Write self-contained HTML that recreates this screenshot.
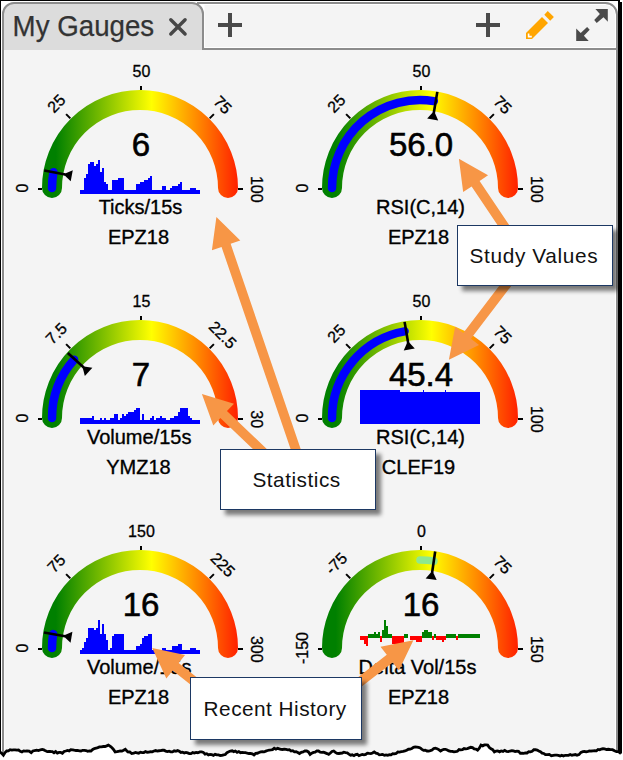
<!DOCTYPE html>
<html><head><meta charset="utf-8"><title>My Gauges</title>
<style>
html,body{margin:0;padding:0;background:#fff;}
body{width:623px;height:760px;overflow:hidden;position:relative;font-family:"Liberation Sans", sans-serif;}
svg{position:absolute;left:0;top:0;display:block;}
svg text{font-family:"Liberation Sans", sans-serif;fill:#000;}
svg text.b{stroke:#000;stroke-width:0.35px;}
svg text.v{stroke:#000;stroke-width:0.6px;}
svg text.t{stroke:#000;stroke-width:0.3px;}
</style></head><body>
<svg width="623" height="760" viewBox="0 0 623 760">
<defs>
<linearGradient id="gr0" gradientUnits="userSpaceOnUse" x1="42" y1="0" x2="239" y2="0">
<stop offset="0" stop-color="#008000"/><stop offset="0.07" stop-color="#008000"/><stop offset="0.556" stop-color="#ffff00"/><stop offset="1" stop-color="#ff1e00"/>
</linearGradient>
<linearGradient id="gr1" gradientUnits="userSpaceOnUse" x1="322" y1="0" x2="519" y2="0">
<stop offset="0" stop-color="#008000"/><stop offset="0.07" stop-color="#008000"/><stop offset="0.556" stop-color="#ffff00"/><stop offset="1" stop-color="#ff1e00"/>
</linearGradient>
<filter id="sh" x="-10%" y="-10%" width="130%" height="140%">
<feGaussianBlur in="SourceAlpha" stdDeviation="2.1"/>
<feOffset dx="5" dy="4.5" result="b"/>
<feComponentTransfer><feFuncA type="linear" slope="0.5"/></feComponentTransfer>
<feMerge><feMergeNode/><feMergeNode in="SourceGraphic"/></feMerge>
</filter>
</defs>
<!-- panel background -->
<rect x="2" y="2" width="616" height="756" fill="#f4f4f4"/>
<rect x="1" y="1" width="617" height="49" fill="#fff"/>
<!-- header right area -->
<path d="M204 2H606A12 12 0 0 1 618 14V50H204Z" fill="#f4f4f4"/>
<path d="M204 4.5H605.5A10.5 10.5 0 0 1 615.5 14V47.5H204.5Z" fill="none" stroke="#fff" stroke-width="1"/>
<path d="M197 3H605.5A11.5 11.5 0 0 1 617 14.5V760" fill="none" stroke="#8c8c8c" stroke-width="2"/>
<path d="M204 49H616" stroke="#8c8c8c" stroke-width="2"/>
<path d="M615.5 50V760" stroke="#fff" stroke-width="1"/>
<!-- tab -->
<path d="M3 50V14A11 11 0 0 1 14 3H192A11 11 0 0 1 203 14V50Z" fill="#dcdcdc"/>
<path d="M3 50V14A11 11 0 0 1 14 3H192A11 11 0 0 1 203 14V50" fill="none" stroke="#8c8c8c" stroke-width="2"/>
<path d="M3 50V760" stroke="#8c8c8c" stroke-width="2"/>
<path d="M4.5 50V760" stroke="#fafafa" stroke-width="1"/>
<text x="12.6" y="35.8" font-size="29.6" textLength="141.6" lengthAdjust="spacingAndGlyphs" style="fill:#333;stroke:#333;stroke-width:0.25px">My Gauges</text>
<path d="M170.8 19.8L185.1 34M185.1 19.8L170.8 34" stroke="#474747" stroke-width="3.4" stroke-linecap="round"/>
<!-- header icons -->
<path d="M218 25H242M230 13V37" stroke="#4a4a4a" stroke-width="4"/>
<path d="M476 25H500M488 13V37" stroke="#4a4a4a" stroke-width="4"/>
<path d="M526 33L542 17L548 23L532 39H526Z" fill="#ffa500"/>
<path d="M544.3 14.7L547.7 11.1L553.9 17L550.2 20.8Z" fill="#ffa500"/>
<path d="M528.6 33.6V36.6H531.8" fill="none" stroke="#fff" stroke-width="1.6"/>
<path d="M595.4 9.1H607.8V21.7L603.5 17.2L596.7 22.9L594.2 20L599.9 14Z" fill="#4a4a4a"/>
<path d="M576.2 40.9V28.4L580.7 32.9L587.1 27.1L589.7 29.7L583.9 35.8L588.7 40.9Z" fill="#4a4a4a"/>
<!-- gauges -->
<path d="M52 188 A88 88 0 0 1 228 188" fill="none" stroke="url(#gr0)" stroke-width="20" stroke-linecap="round"/>
<path d="M52 188 A88 88 0 0 1 53.42 172.27" fill="none" stroke="#0000ff" stroke-width="8.5" stroke-linecap="round"/>
<line x1="42" y1="189" x2="38" y2="189" stroke="#000" stroke-width="2"/>
<line x1="70.35" y1="118.35" x2="66.11" y2="114.11" stroke="#000" stroke-width="2"/>
<line x1="141" y1="90" x2="141" y2="86" stroke="#000" stroke-width="2"/>
<line x1="209.65" y1="118.35" x2="213.89" y2="114.11" stroke="#000" stroke-width="2"/>
<line x1="238" y1="189" x2="243" y2="189" stroke="#000" stroke-width="2"/>
<text class="t" transform="translate(22.7 188.07) rotate(-90)" x="0" y="5.7" text-anchor="middle" font-size="16">0</text>
<text class="t" transform="translate(56.18 103.34) rotate(-45)" x="0" y="5.7" text-anchor="middle" font-size="16">25</text>
<text class="t" transform="translate(141.43 71.2) rotate(0)" x="0" y="5.7" text-anchor="middle" font-size="16">50</text>
<text class="t" transform="translate(222.86 104.68) rotate(45)" x="0" y="5.7" text-anchor="middle" font-size="16">75</text>
<text class="t" transform="translate(257.1 189.23) rotate(90)" x="0" y="5.7" text-anchor="middle" font-size="16">100</text>
<path d="M80 190H84V194H80ZM84 178H86V194H84ZM86 174H88V194H86ZM88 164H90V194H88ZM90 162H94V194H90ZM94 166H96V194H94ZM96 164H98V194H96ZM98 160H100V194H98ZM100 172H102V194H100ZM102 168H104V194H102ZM104 182H106V194H104ZM106 184H108V194H106ZM108 190H112V194H108ZM112 180H118V194H112ZM118 178H124V194H118ZM124 190H136V194H124ZM136 184H140V194H136ZM140 182H144V194H140ZM144 180H148V194H144ZM148 178H150V194H148ZM150 176H152V194H150ZM152 190H162V194H152ZM162 186H166V194H162ZM166 190H170V194H166ZM170 188H172V194H170ZM172 186H178V194H172ZM178 184H180V194H178ZM180 182H182V194H180ZM182 190H190V194H182ZM190 188H196V194H190ZM196 190H200V194H196Z" fill="#0000ff"/>
<text class="v" x="141" y="156" text-anchor="middle" font-size="33">6</text>
<text class="b" x="140.5" y="213.5" text-anchor="middle" font-size="20">Ticks/15s</text>
<text class="b" x="138.5" y="243.5" text-anchor="middle" font-size="20">EPZ18</text>
<line x1="44.24" y1="170.54" x2="65.36" y2="174.57" stroke="#000" stroke-width="2.6"/>
<path d="M63.4 174.2L72.8 170.29L70.7 181.29Z" fill="#000"/>
<path d="M332 188 A88 88 0 0 1 508 188" fill="none" stroke="url(#gr1)" stroke-width="20" stroke-linecap="round"/>
<path d="M332 188 A88 88 0 0 1 433.83 101.09" fill="none" stroke="#0000ff" stroke-width="8.5" stroke-linecap="round"/>
<line x1="322" y1="189" x2="318" y2="189" stroke="#000" stroke-width="2"/>
<line x1="350.35" y1="118.35" x2="346.11" y2="114.11" stroke="#000" stroke-width="2"/>
<line x1="421" y1="90" x2="421" y2="86" stroke="#000" stroke-width="2"/>
<line x1="489.65" y1="118.35" x2="493.89" y2="114.11" stroke="#000" stroke-width="2"/>
<line x1="518" y1="189" x2="523" y2="189" stroke="#000" stroke-width="2"/>
<text class="t" transform="translate(302.7 188.07) rotate(-90)" x="0" y="5.7" text-anchor="middle" font-size="16">0</text>
<text class="t" transform="translate(336.18 103.34) rotate(-45)" x="0" y="5.7" text-anchor="middle" font-size="16">25</text>
<text class="t" transform="translate(421.43 71.2) rotate(0)" x="0" y="5.7" text-anchor="middle" font-size="16">50</text>
<text class="t" transform="translate(502.86 104.68) rotate(45)" x="0" y="5.7" text-anchor="middle" font-size="16">75</text>
<text class="t" transform="translate(537.1 189.23) rotate(90)" x="0" y="5.7" text-anchor="middle" font-size="16">100</text>
<text class="v" x="421" y="156" text-anchor="middle" font-size="33">56.0</text>
<text class="b" x="420.5" y="213.5" text-anchor="middle" font-size="20">RSI(C,14)</text>
<text class="b" x="418.5" y="243.5" text-anchor="middle" font-size="20">EPZ18</text>
<line x1="437.33" y1="91.86" x2="433.76" y2="113.06" stroke="#000" stroke-width="2.6"/>
<path d="M434.09 111.09L438.21 120.4L427.16 118.55Z" fill="#000"/>
<path d="M52 418 A88 88 0 0 1 228 418" fill="none" stroke="url(#gr0)" stroke-width="20" stroke-linecap="round"/>
<path d="M52 418 A88 88 0 0 1 74.09 359.69" fill="none" stroke="#0000ff" stroke-width="8.5" stroke-linecap="round"/>
<line x1="42" y1="419" x2="38" y2="419" stroke="#000" stroke-width="2"/>
<line x1="70.35" y1="348.35" x2="66.11" y2="344.11" stroke="#000" stroke-width="2"/>
<line x1="141" y1="320" x2="141" y2="316" stroke="#000" stroke-width="2"/>
<line x1="209.65" y1="348.35" x2="213.89" y2="344.11" stroke="#000" stroke-width="2"/>
<line x1="238" y1="419" x2="243" y2="419" stroke="#000" stroke-width="2"/>
<text class="t" transform="translate(22.7 418.07) rotate(-90)" x="0" y="5.7" text-anchor="middle" font-size="16">0</text>
<text class="t" transform="translate(56.18 333.34) rotate(-45)" x="0" y="5.7" text-anchor="middle" font-size="16">7.5</text>
<text class="t" transform="translate(141.43 301.2) rotate(0)" x="0" y="5.7" text-anchor="middle" font-size="16">15</text>
<text class="t" transform="translate(222.86 334.68) rotate(45)" x="0" y="5.7" text-anchor="middle" font-size="16">22.5</text>
<text class="t" transform="translate(257.1 419.23) rotate(90)" x="0" y="5.7" text-anchor="middle" font-size="16">30</text>
<path d="M80 418H92V424H80ZM92 416H94V424H92ZM94 420H100V424H94ZM100 418H102V424H100ZM102 420H104V424H102ZM104 418H106V424H104ZM106 420H110V424H106ZM110 418H114V424H110ZM114 414H118V424H114ZM118 420H120V424H118ZM120 418H122V424H120ZM122 414H124V424H122ZM124 416H126V424H124ZM126 414H128V424H126ZM128 412H134V424H128ZM134 410H136V424H134ZM136 408H140V424H136ZM140 420H142V424H140ZM142 414H144V424H142ZM144 420H150V424H144ZM150 418H152V424H150ZM152 416H154V424H152ZM154 420H156V424H154ZM156 418H160V424H156ZM160 416H162V424H160ZM162 418H166V424H162ZM166 420H170V424H166ZM170 418H174V424H170ZM174 416H178V424H174ZM178 412H180V424H178ZM180 408H188V424H180ZM188 416H190V424H188ZM190 418H192V424H190ZM192 420H200V424H192Z" fill="#0000ff"/>
<text class="v" x="141" y="386" text-anchor="middle" font-size="33">7</text>
<text class="b" x="139.2" y="443.5" text-anchor="middle" font-size="20">Volume/15s</text>
<text class="b" x="138.5" y="473.5" text-anchor="middle" font-size="20">YMZ18</text>
<line x1="67.8" y1="353.09" x2="83.78" y2="367.48" stroke="#000" stroke-width="2.6"/>
<path d="M82.29 366.14L92.36 367.66L84.86 375.99Z" fill="#000"/>
<path d="M332 418 A88 88 0 0 1 508 418" fill="none" stroke="url(#gr1)" stroke-width="20" stroke-linecap="round"/>
<path d="M332 418 A88 88 0 0 1 404.58 331.36" fill="none" stroke="#0000ff" stroke-width="8.5" stroke-linecap="round"/>
<line x1="322" y1="419" x2="318" y2="419" stroke="#000" stroke-width="2"/>
<line x1="350.35" y1="348.35" x2="346.11" y2="344.11" stroke="#000" stroke-width="2"/>
<line x1="421" y1="320" x2="421" y2="316" stroke="#000" stroke-width="2"/>
<line x1="489.65" y1="348.35" x2="493.89" y2="344.11" stroke="#000" stroke-width="2"/>
<line x1="518" y1="419" x2="523" y2="419" stroke="#000" stroke-width="2"/>
<text class="t" transform="translate(302.7 418.07) rotate(-90)" x="0" y="5.7" text-anchor="middle" font-size="16">0</text>
<text class="t" transform="translate(336.18 333.34) rotate(-45)" x="0" y="5.7" text-anchor="middle" font-size="16">25</text>
<text class="t" transform="translate(421.43 301.2) rotate(0)" x="0" y="5.7" text-anchor="middle" font-size="16">50</text>
<text class="t" transform="translate(502.86 334.68) rotate(45)" x="0" y="5.7" text-anchor="middle" font-size="16">75</text>
<text class="t" transform="translate(537.1 419.23) rotate(90)" x="0" y="5.7" text-anchor="middle" font-size="16">100</text>
<path d="M360 390H400V392H423V390H424V392H445V390H446V392H480V424H360Z" fill="#0000ff"/>
<text class="v" x="421" y="386" text-anchor="middle" font-size="33">45.4</text>
<text class="b" x="420.5" y="443.5" text-anchor="middle" font-size="20">RSI(C,14)</text>
<text class="b" x="418.5" y="473.5" text-anchor="middle" font-size="20">CLEF19</text>
<line x1="404.58" y1="321.88" x2="408.17" y2="343.08" stroke="#000" stroke-width="2.6"/>
<path d="M407.83 341.1L414.77 348.55L403.73 350.42Z" fill="#000"/>
<path d="M52 648 A88 88 0 0 1 228 648" fill="none" stroke="url(#gr0)" stroke-width="20" stroke-linecap="round"/>
<path d="M52 648 A88 88 0 0 1 53.11 634.08" fill="none" stroke="#0000ff" stroke-width="8.5" stroke-linecap="round"/>
<line x1="42" y1="649" x2="38" y2="649" stroke="#000" stroke-width="2"/>
<line x1="70.35" y1="578.35" x2="66.11" y2="574.11" stroke="#000" stroke-width="2"/>
<line x1="141" y1="550" x2="141" y2="546" stroke="#000" stroke-width="2"/>
<line x1="209.65" y1="578.35" x2="213.89" y2="574.11" stroke="#000" stroke-width="2"/>
<line x1="238" y1="649" x2="243" y2="649" stroke="#000" stroke-width="2"/>
<text class="t" transform="translate(22.7 648.07) rotate(-90)" x="0" y="5.7" text-anchor="middle" font-size="16">0</text>
<text class="t" transform="translate(56.18 563.34) rotate(-45)" x="0" y="5.7" text-anchor="middle" font-size="16">75</text>
<text class="t" transform="translate(141.43 531.2) rotate(0)" x="0" y="5.7" text-anchor="middle" font-size="16">150</text>
<text class="t" transform="translate(222.86 564.68) rotate(45)" x="0" y="5.7" text-anchor="middle" font-size="16">225</text>
<text class="t" transform="translate(257.1 649.23) rotate(90)" x="0" y="5.7" text-anchor="middle" font-size="16">300</text>
<path d="M80 650H82V654H80ZM82 648H84V654H82ZM84 642H86V654H84ZM86 638H88V654H86ZM88 628H94V654H88ZM94 630H96V654H94ZM96 628H98V654H96ZM98 620H100V654H98ZM100 634H102V654H100ZM102 624H104V654H102ZM104 634H106V654H104ZM106 640H108V654H106ZM108 650H110V654H108ZM110 648H112V654H110ZM112 636H114V654H112ZM114 634H124V654H114ZM124 650H136V654H124ZM136 646H140V654H136ZM140 644H142V654H140ZM142 638H144V654H142ZM144 636H148V654H144ZM148 634H152V654H148ZM152 650H162V654H152ZM162 648H166V654H162ZM166 650H172V654H166ZM172 646H178V654H172ZM178 644H182V654H178ZM182 650H190V654H182ZM190 648H196V654H190ZM196 650H200V654H196Z" fill="#0000ff"/>
<text class="v" x="141" y="616" text-anchor="middle" font-size="33">16</text>
<text class="b" x="139.2" y="673.5" text-anchor="middle" font-size="20">Volume/15s</text>
<text class="b" x="138.5" y="703.5" text-anchor="middle" font-size="20">EPZ18</text>
<line x1="43.88" y1="632.57" x2="65.08" y2="636.16" stroke="#000" stroke-width="2.6"/>
<path d="M63.11 635.83L72.42 631.72L70.55 642.76Z" fill="#000"/>
<path d="M332 648 A88 88 0 0 1 508 648" fill="none" stroke="url(#gr1)" stroke-width="20" stroke-linecap="round"/>
<path d="M420 560 A88 88 0 0 1 433.89 561.1" fill="none" stroke="#8ee88e" stroke-width="7.6" stroke-linecap="round"/>
<line x1="322" y1="649" x2="318" y2="649" stroke="#000" stroke-width="2"/>
<line x1="350.35" y1="578.35" x2="346.11" y2="574.11" stroke="#000" stroke-width="2"/>
<line x1="421" y1="550" x2="421" y2="546" stroke="#000" stroke-width="2"/>
<line x1="489.65" y1="578.35" x2="493.89" y2="574.11" stroke="#000" stroke-width="2"/>
<line x1="518" y1="649" x2="523" y2="649" stroke="#000" stroke-width="2"/>
<text class="t" transform="translate(302.7 648.07) rotate(-90)" x="0" y="5.7" text-anchor="middle" font-size="16">-150</text>
<text class="t" transform="translate(336.18 563.34) rotate(-45)" x="0" y="5.7" text-anchor="middle" font-size="16">-75</text>
<text class="t" transform="translate(421.43 531.2) rotate(0)" x="0" y="5.7" text-anchor="middle" font-size="16">0</text>
<text class="t" transform="translate(502.86 564.68) rotate(45)" x="0" y="5.7" text-anchor="middle" font-size="16">75</text>
<text class="t" transform="translate(537.1 649.23) rotate(90)" x="0" y="5.7" text-anchor="middle" font-size="16">150</text>
<path d="M368 634H374V638H368ZM374 632H376V638H374ZM376 634H378V638H376ZM378 632H380V638H378ZM382 630H384V638H382ZM384 620H386V638H384ZM386 626H388V638H386ZM388 634H392V638H388ZM404 634H408V638H404ZM422 632H424V638H422ZM424 630H428V638H424ZM428 632H432V638H428ZM434 634H436V638H434ZM446 634H456V638H446ZM458 634H480V638H458Z" fill="#008000"/>
<path d="M360 636H364V640H360ZM364 636H366V644H364ZM366 636H368V646H366ZM380 636H382V642H380ZM392 636H404V644H392ZM410 636H416V640H410ZM416 636H422V642H416ZM432 636H434V640H432ZM436 636H442V640H436ZM442 636H444V642H442ZM444 636H446V640H444ZM456 636H458V640H456Z" fill="#ff0000"/>
<text class="v" x="421" y="616" text-anchor="middle" font-size="33">16</text>
<text class="b" x="417.5" y="673.5" text-anchor="middle" font-size="20">Delta Vol/15s</text>
<text class="b" x="418.5" y="703.5" text-anchor="middle" font-size="20">EPZ18</text>
<line x1="435.19" y1="551.53" x2="432.09" y2="572.8" stroke="#000" stroke-width="2.6"/>
<path d="M432.38 570.82L436.69 580.04L425.61 578.43Z" fill="#000"/>
<!-- arrows -->
<path d="M509.99 226.33L479.6 181.04L488.07 175.35L458.9 158.8L463.16 192.07L471.63 186.39L502.01 231.67Z" fill="#f79646"/>
<path d="M505.18 278.09L463.28 333.04L455.17 326.85L448.9 359.8L479.02 345.04L470.91 338.86L512.82 283.91Z" fill="#f79646"/>
<path d="M301.54 451.45L230.64 243.84L240.29 240.54L216.4 217L211.9 250.24L221.55 246.94L292.46 454.55Z" fill="#f79646"/>
<path d="M267.31 449.52L226.94 411.1L233.97 403.72L201.9 393.9L213.29 425.45L220.32 418.06L260.69 456.48Z" fill="#f79646"/>
<path d="M202.99 682.24L178.67 662.91L185.02 654.93L152.2 648L166.35 678.41L172.7 670.43L197.01 689.76Z" fill="#f79646"/>
<path d="M354.95 691.79L392.68 662.42L398.94 670.47L413.4 640.2L380.51 646.79L386.78 654.84L349.05 684.21Z" fill="#f79646"/>
<!-- boxes -->
<rect x="457.5" y="225.5" width="155" height="60" fill="#fff" stroke="#1f3864" stroke-width="1" filter="url(#sh)"/><text x="469.6" y="263" font-size="20.8" textLength="128" lengthAdjust="spacing" style="fill:#111">Study Values</text>
<rect x="220.5" y="449.5" width="155" height="60" fill="#fff" stroke="#1f3864" stroke-width="1" filter="url(#sh)"/><text x="252.4" y="486.5" font-size="20.8" textLength="87.8" lengthAdjust="spacing" style="fill:#111">Statistics</text>
<rect x="190.5" y="677.5" width="171" height="62" fill="#fff" stroke="#1f3864" stroke-width="1" filter="url(#sh)"/><text x="203.6" y="716" font-size="20.8" textLength="142.6" lengthAdjust="spacing" style="fill:#111">Recent History</text>
<!-- frame -->
<rect x="0" y="0" width="620" height="1" fill="#000"/>
<rect x="1" y="1" width="617" height="1" fill="#fff"/>
<rect x="0" y="0" width="1" height="755" fill="#000"/>
<rect x="1" y="1" width="1" height="755" fill="#fff"/>
<rect x="618" y="0" width="2" height="3" fill="#000"/>
<rect x="618" y="2" width="4" height="752" fill="#000"/>
<rect x="622" y="0" width="1" height="760" fill="#fff"/>
<path d="M0 752 L1.7 753.32 L3.4 755.2 L5.05 752.54 L6.7 751 L8.4 750.94 L10.1 749.72 L11.8 750.16 L13.5 749.8 L15.2 749.79 L16.9 750.2 L18.57 750.06 L20.23 751.35 L21.9 751.9 L23.6 750.86 L25.3 751.19 L27 751 L29.1 751.16 L31.2 752.7 L32.9 750.95 L34.6 750.5 L36.57 750.15 L38.53 750.56 L40.5 749.8 L42.18 749.48 L43.87 749.92 L45.55 750.85 L47.23 751.65 L48.92 751.34 L50.6 751.5 L52.29 751.58 L53.97 752.75 L55.66 751.5 L57.34 753.04 L59.03 752.38 L60.71 752.39 L62.4 753.2 L64.1 751.49 L65.8 751 L67.47 750.39 L69.15 750.91 L70.83 749.59 L72.5 749.8 L74.2 750.17 L75.9 750.5 L77.6 750.32 L79.3 750.84 L81 751 L82.67 750.3 L84.33 750.3 L86 750.53 L87.67 751.29 L89.33 750.88 L91 751 L92.7 749.45 L94.4 748.5 L96.1 748.21 L97.8 747.58 L99.5 746.9 L101.2 746.8 L103.4 746.5 L105.07 746.5 L106.73 745.89 L108.4 745.1 L111 746.8 L113.1 748.94 L115.2 751.9 L116.87 751.72 L118.53 751.34 L120.2 751 L121.9 751.03 L123.6 750.23 L125.3 749.3 L127.8 751.9 L129.77 751.99 L131.73 753.53 L133.7 753.2 L135.38 752.47 L137.07 752.84 L138.75 753.26 L140.43 752.18 L142.12 752.6 L143.8 752.5 L145.5 751.51 L147.2 752.27 L148.9 752.17 L150.6 751.62 L152.3 751.85 L154 751 L155.67 750.57 L157.33 751.05 L159 750.75 L160.67 750.59 L162.33 750.26 L164 750.2 L165.7 751.08 L167.4 751.59 L169.1 751.18 L170.8 751.82 L172.5 751.9 L174.2 750.73 L175.9 751.29 L177.6 750.5 L179.27 751.3 L180.93 752.42 L182.6 752.2 L184.28 753 L185.96 752.42 L187.64 752.86 L189.32 753.59 L191 753.6 L192.7 752.61 L194.4 753.09 L196.1 752.39 L197.8 752.7 L200 751.9 L201.68 751.89 L203.36 752.39 L205.04 754.13 L206.72 753.71 L208.4 754.9 L210.09 754.5 L211.78 754.73 L213.47 755.49 L215.16 754.23 L216.84 754.82 L218.53 754.98 L220.22 755.51 L221.91 755.41 L223.6 754.9 L225.3 754.51 L227 752.6 L228.7 751.84 L230.4 751 L232.07 750.77 L233.73 751.61 L235.4 751 L237.1 752.3 L238.8 751.57 L240.5 752.7 L242.18 752.32 L243.87 752.54 L245.55 752.67 L247.23 753.21 L248.92 753.51 L250.6 753.5 L252.3 753.82 L254 754.9 L255.68 753.36 L257.35 753.27 L259.02 752.44 L260.7 751.9 L262.4 751.66 L264.1 751.92 L265.8 751.15 L267.5 750.5 L269.18 750.14 L270.87 749.92 L272.55 749.63 L274.23 748.25 L275.92 749.22 L277.6 748.2 L279.28 748.91 L280.97 749.33 L282.65 749.48 L284.33 749.09 L286.02 749.37 L287.7 749.8 L289.38 749.69 L291.05 751.06 L292.72 750.67 L294.4 751.9 L296.1 751.74 L297.8 752.5 L299.5 753.5 L301.3 752.33 L303.1 751.99 L304.9 750.91 L306.7 751 L308.4 751.9 L310.1 754.4 L311.78 753.16 L313.46 752.4 L315.14 752.14 L316.82 750.92 L318.5 751 L320.2 752.17 L321.9 752.32 L323.6 752.14 L325.3 752.87 L327 753.59 L328.7 754.4 L330.37 753.05 L332.03 751.53 L333.7 751 L335.4 752.39 L337.1 753.46 L338.8 753.5 L340.48 753.25 L342.15 753.07 L343.82 752.24 L345.5 752.7 L347.2 752.9 L348.9 754.11 L350.6 755.2 L352.28 754.79 L353.95 755.65 L355.62 754.55 L357.3 754.29 L358.98 755.73 L360.65 755.02 L362.32 754.37 L364 754.9 L365.7 754.47 L367.4 753.14 L369.1 753.44 L370.8 753.67 L372.5 752.98 L374.2 751.9 L375.9 753.21 L377.6 753.52 L379.3 754.9 L380.99 754.69 L382.67 754.37 L384.36 755.34 L386.04 754.95 L387.73 755.35 L389.41 754.63 L391.1 754.9 L392.78 753.71 L394.45 753.9 L396.12 753.43 L397.8 751.9 L399.58 752.12 L401.36 751.71 L403.14 751.39 L404.92 750.92 L406.7 750.2 L408.4 749.25 L410.1 749.19 L411.8 748.42 L413.5 747.38 L415.2 746.86 L416.9 747.1 L418.58 747.4 L420.27 748.01 L421.95 749.36 L423.63 750.43 L425.32 750.27 L427 751 L428.68 751.14 L430.36 750.66 L432.04 750.05 L433.72 748.54 L435.4 748.2 L437.1 748.69 L438.8 749.63 L440.5 751 L442.17 749.95 L443.83 749.39 L445.5 749.3 L447.2 750.02 L448.9 750.98 L450.6 751.4 L452.3 751.35 L454 751.9 L455.68 751.58 L457.37 751.25 L459.05 749.54 L460.73 749.89 L462.42 749.72 L464.1 748.5 L465.78 748.77 L467.46 748.54 L469.14 747.92 L470.82 747.27 L472.5 747.6 L474.2 748.93 L475.9 749.07 L477.6 750.2 L479.3 748.13 L481 745.1 L482.68 745.85 L484.35 744.93 L486.02 744.94 L487.7 745.1 L489.38 747.51 L491.05 748.86 L492.72 749.67 L494.4 751.9 L496.1 751.08 L497.8 750.89 L499.5 751.87 L501.2 751 L502.97 751.44 L504.73 750.33 L506.5 751.37 L508.27 751.57 L510.03 751 L511.8 750.7 L513.5 750.83 L515.2 751.52 L516.9 751.22 L518.6 751.41 L520.3 753.31 L522 753.17 L523.7 753.3 L525.39 752.83 L527.07 752.97 L528.76 751.65 L530.44 751.84 L532.13 751.25 L533.81 749.75 L535.5 749.7 L537.15 750.14 L538.8 751.04 L540.45 751.78 L542.1 753.17 L543.75 753.48 L545.4 754.7 L547.38 754.72 L549.35 754.41 L551.32 755.81 L553.3 755.3 L554.99 755.07 L556.69 755.23 L558.38 755.43 L560.07 755.95 L561.76 755.17 L563.46 755.97 L565.15 755.3 L566.84 755.35 L568.54 755.34 L570.23 754.53 L571.92 755.2 L573.61 754.79 L575.31 754.51 L577 755.3 L578.97 754.58 L580.93 752.38 L582.9 751.7 L584.6 751.51 L586.3 751.77 L588 751.36 L589.7 750.85 L591.4 751.02 L593.1 750.93 L594.8 750.7 L596.43 750.84 L598.07 749.44 L599.7 749.85 L601.33 749.03 L602.97 748.76 L604.6 748.8 L606.58 749.46 L608.55 749.26 L610.52 749.57 L612.5 749.7 L614.5 750.78 L616.5 751.69 L618.5 751.7 L621 753.5 L623 753.5 L623 760 L0 760 Z" fill="#fff"/>
<polyline points="0,752 1.7,753.32 3.4,755.2 5.05,752.54 6.7,751 8.4,750.94 10.1,749.72 11.8,750.16 13.5,749.8 15.2,749.79 16.9,750.2 18.57,750.06 20.23,751.35 21.9,751.9 23.6,750.86 25.3,751.19 27,751 29.1,751.16 31.2,752.7 32.9,750.95 34.6,750.5 36.57,750.15 38.53,750.56 40.5,749.8 42.18,749.48 43.87,749.92 45.55,750.85 47.23,751.65 48.92,751.34 50.6,751.5 52.29,751.58 53.97,752.75 55.66,751.5 57.34,753.04 59.03,752.38 60.71,752.39 62.4,753.2 64.1,751.49 65.8,751 67.47,750.39 69.15,750.91 70.83,749.59 72.5,749.8 74.2,750.17 75.9,750.5 77.6,750.32 79.3,750.84 81,751 82.67,750.3 84.33,750.3 86,750.53 87.67,751.29 89.33,750.88 91,751 92.7,749.45 94.4,748.5 96.1,748.21 97.8,747.58 99.5,746.9 101.2,746.8 103.4,746.5 105.07,746.5 106.73,745.89 108.4,745.1 111,746.8 113.1,748.94 115.2,751.9 116.87,751.72 118.53,751.34 120.2,751 121.9,751.03 123.6,750.23 125.3,749.3 127.8,751.9 129.77,751.99 131.73,753.53 133.7,753.2 135.38,752.47 137.07,752.84 138.75,753.26 140.43,752.18 142.12,752.6 143.8,752.5 145.5,751.51 147.2,752.27 148.9,752.17 150.6,751.62 152.3,751.85 154,751 155.67,750.57 157.33,751.05 159,750.75 160.67,750.59 162.33,750.26 164,750.2 165.7,751.08 167.4,751.59 169.1,751.18 170.8,751.82 172.5,751.9 174.2,750.73 175.9,751.29 177.6,750.5 179.27,751.3 180.93,752.42 182.6,752.2 184.28,753 185.96,752.42 187.64,752.86 189.32,753.59 191,753.6 192.7,752.61 194.4,753.09 196.1,752.39 197.8,752.7 200,751.9 201.68,751.89 203.36,752.39 205.04,754.13 206.72,753.71 208.4,754.9 210.09,754.5 211.78,754.73 213.47,755.49 215.16,754.23 216.84,754.82 218.53,754.98 220.22,755.51 221.91,755.41 223.6,754.9 225.3,754.51 227,752.6 228.7,751.84 230.4,751 232.07,750.77 233.73,751.61 235.4,751 237.1,752.3 238.8,751.57 240.5,752.7 242.18,752.32 243.87,752.54 245.55,752.67 247.23,753.21 248.92,753.51 250.6,753.5 252.3,753.82 254,754.9 255.68,753.36 257.35,753.27 259.02,752.44 260.7,751.9 262.4,751.66 264.1,751.92 265.8,751.15 267.5,750.5 269.18,750.14 270.87,749.92 272.55,749.63 274.23,748.25 275.92,749.22 277.6,748.2 279.28,748.91 280.97,749.33 282.65,749.48 284.33,749.09 286.02,749.37 287.7,749.8 289.38,749.69 291.05,751.06 292.72,750.67 294.4,751.9 296.1,751.74 297.8,752.5 299.5,753.5 301.3,752.33 303.1,751.99 304.9,750.91 306.7,751 308.4,751.9 310.1,754.4 311.78,753.16 313.46,752.4 315.14,752.14 316.82,750.92 318.5,751 320.2,752.17 321.9,752.32 323.6,752.14 325.3,752.87 327,753.59 328.7,754.4 330.37,753.05 332.03,751.53 333.7,751 335.4,752.39 337.1,753.46 338.8,753.5 340.48,753.25 342.15,753.07 343.82,752.24 345.5,752.7 347.2,752.9 348.9,754.11 350.6,755.2 352.28,754.79 353.95,755.65 355.62,754.55 357.3,754.29 358.98,755.73 360.65,755.02 362.32,754.37 364,754.9 365.7,754.47 367.4,753.14 369.1,753.44 370.8,753.67 372.5,752.98 374.2,751.9 375.9,753.21 377.6,753.52 379.3,754.9 380.99,754.69 382.67,754.37 384.36,755.34 386.04,754.95 387.73,755.35 389.41,754.63 391.1,754.9 392.78,753.71 394.45,753.9 396.12,753.43 397.8,751.9 399.58,752.12 401.36,751.71 403.14,751.39 404.92,750.92 406.7,750.2 408.4,749.25 410.1,749.19 411.8,748.42 413.5,747.38 415.2,746.86 416.9,747.1 418.58,747.4 420.27,748.01 421.95,749.36 423.63,750.43 425.32,750.27 427,751 428.68,751.14 430.36,750.66 432.04,750.05 433.72,748.54 435.4,748.2 437.1,748.69 438.8,749.63 440.5,751 442.17,749.95 443.83,749.39 445.5,749.3 447.2,750.02 448.9,750.98 450.6,751.4 452.3,751.35 454,751.9 455.68,751.58 457.37,751.25 459.05,749.54 460.73,749.89 462.42,749.72 464.1,748.5 465.78,748.77 467.46,748.54 469.14,747.92 470.82,747.27 472.5,747.6 474.2,748.93 475.9,749.07 477.6,750.2 479.3,748.13 481,745.1 482.68,745.85 484.35,744.93 486.02,744.94 487.7,745.1 489.38,747.51 491.05,748.86 492.72,749.67 494.4,751.9 496.1,751.08 497.8,750.89 499.5,751.87 501.2,751 502.97,751.44 504.73,750.33 506.5,751.37 508.27,751.57 510.03,751 511.8,750.7 513.5,750.83 515.2,751.52 516.9,751.22 518.6,751.41 520.3,753.31 522,753.17 523.7,753.3 525.39,752.83 527.07,752.97 528.76,751.65 530.44,751.84 532.13,751.25 533.81,749.75 535.5,749.7 537.15,750.14 538.8,751.04 540.45,751.78 542.1,753.17 543.75,753.48 545.4,754.7 547.38,754.72 549.35,754.41 551.32,755.81 553.3,755.3 554.99,755.07 556.69,755.23 558.38,755.43 560.07,755.95 561.76,755.17 563.46,755.97 565.15,755.3 566.84,755.35 568.54,755.34 570.23,754.53 571.92,755.2 573.61,754.79 575.31,754.51 577,755.3 578.97,754.58 580.93,752.38 582.9,751.7 584.6,751.51 586.3,751.77 588,751.36 589.7,750.85 591.4,751.02 593.1,750.93 594.8,750.7 596.43,750.84 598.07,749.44 599.7,749.85 601.33,749.03 602.97,748.76 604.6,748.8 606.58,749.46 608.55,749.26 610.52,749.57 612.5,749.7 614.5,750.78 616.5,751.69 618.5,751.7 621,753.5" fill="none" stroke="#000" stroke-width="2.8" stroke-linejoin="miter" stroke-miterlimit="2"/>
</svg>
</body></html>
